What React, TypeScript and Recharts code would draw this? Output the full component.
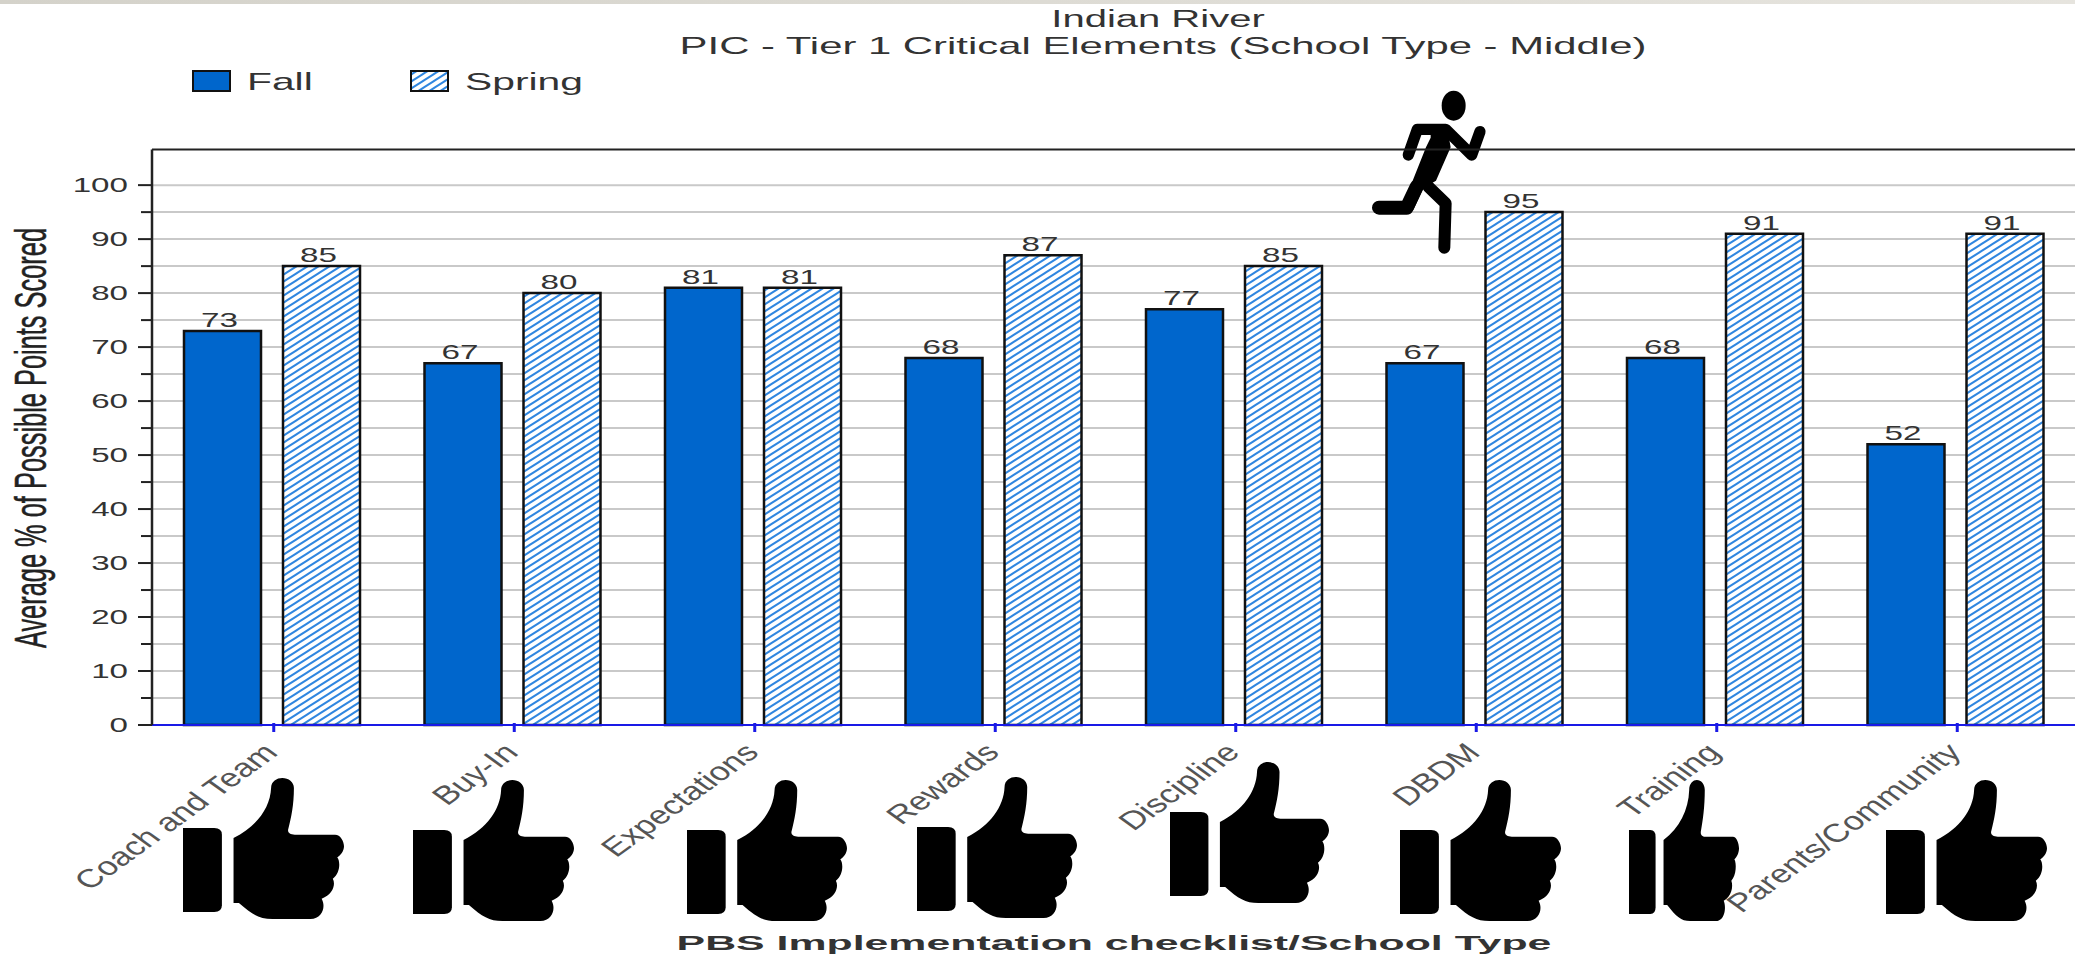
import React from "react";
import {
  BarChart,
  Bar,
  XAxis,
  YAxis,
  CartesianGrid,
  ReferenceLine,
  LabelList,
  Legend,
} from "recharts";

const categories = [
  "Coach and Team",
  "Buy-In",
  "Expectations",
  "Rewards",
  "Discipline",
  "DBDM",
  "Training",
  "Parents/Community",
];
const fallValues = [73, 67, 81, 68, 77, 67, 68, 52];
const springValues = [85, 80, 81, 87, 85, 95, 91, 91];
const yTicks = [0, 5, 10, 15, 20, 25, 30, 35, 40, 45, 50, 55, 60, 65, 70, 75, 80, 85, 90, 95, 100];
const Y_MAX = 106.6;

const data = categories.map((name, i) => ({
  name,
  Fall: fallValues[i],
  Spring: springValues[i],
}));

// thumbs under the axis: left, top, width, height in page pixels
const THUMBS = [
  [183, 778, 161, 141],
  [413, 780, 161, 141],
  [687, 780, 160, 141],
  [917, 777, 160, 141],
  [1170, 762, 159, 141],
  [1400, 780, 161, 141],
  [1629, 780, 110, 141],
  [1886, 780, 161, 141],
];

const TEXT = "#333333";
const FONT = "'Liberation Sans', Arial, sans-serif";

function StretchText({ x, y, sx = 1.7, sy = 1, size = 20, anchor = "middle", bold = false, fill = TEXT, children }: any) {
  return (
    <text
      transform={`translate(${x},${y}) scale(${sx},${sy})`}
      textAnchor={anchor}
      fontFamily={FONT}
      fontSize={size}
      fontWeight={bold ? 700 : 400}
      fill={fill}
    >
      {children}
    </text>
  );
}

// major ticks are a bit longer than the minor ones, so the tick draws its own line
function YTick({ x, y, payload }: any) {
  const major = payload.value % 10 === 0;
  return (
    <g>
      <line x1={x - (major ? 14 : 11)} x2={x} y1={y} y2={y} stroke="#222" strokeWidth={2} />
      {major && (
        <StretchText x={x - 24} y={y + 7} anchor="end" size={19.5}>
          {payload.value}
        </StretchText>
      )}
    </g>
  );
}

function XTick({ x, y, payload }: any) {
  return (
    <g>
      <line x1={x + 1.5} x2={x + 1.5} y1={y - 8} y2={y + 1} stroke="#1a1ae6" strokeWidth={3} />
      <text
        transform={`translate(${x + 7},${y + 23}) scale(1.62,1.17) rotate(-45)`}
        textAnchor="end"
        fontFamily={FONT}
        fontSize={22}
        fill="#555555"
      >
        {payload.value}
      </text>
    </g>
  );
}

function ValueLabel({ x, y, width, value }: any) {
  return (
    <StretchText x={x + width / 2 - 3} y={y - 4} size={20} sx={1.66}>
      {value}
    </StretchText>
  );
}

function ChartLegend() {
  return (
    <svg width={420} height={40} style={{ display: "block" }}>
      <rect x={1} y={11} width={37} height={20} fill="#0066cc" stroke="#111" strokeWidth={2} />
      <StretchText x={55} y={30} size={24} sx={1.7} anchor="start">Fall</StretchText>
      <rect x={219} y={11} width={37} height={20} fill="url(#springHatch)" stroke="#111" strokeWidth={2} />
      <StretchText x={273} y={30} size={24} sx={1.7} anchor="start">Spring</StretchText>
    </svg>
  );
}

function Thumb({ box }: { box: number[] }) {
  const [left, top, w, h] = box;
  return (
    <g transform={`translate(${left},${top}) scale(${w / 360},${h / 423})`}>
      <path d="M0 150H70Q87 150 87 170V382Q87 402 70 402H0Z" fill="#000" />
      <path
        d="M113 180C165 145 195 90 197 30C197 10 210 0 222 0C236 0 248 12 248 30C248 80 242 120 235 155C234 165 240 170 250 170H340C352 170 360 190 360 205C360 220 352 232 345 238C352 250 352 285 335 302C342 320 335 350 310 362C320 385 312 423 285 423H200C170 423 155 410 125 375L113 375Z"
        fill="#000"
      />
    </g>
  );
}

function Runner() {
  return (
    <g transform="translate(1300,60) scale(0.3333)" fill="none" stroke="#000" strokeLinecap="round" strokeLinejoin="round">
      <ellipse cx={461} cy={137} rx={36} ry={45} fill="#000" stroke="none" />
      <path d="M392 233L378 262L315 420L340 450L370 385L408 362L452 262L440 195L392 195Z" fill="#000" stroke="none" />
      <path d="M325 285L352 208H437L515 285L540 215" strokeWidth={34} />
      <path d="M350 380L320 443H237" strokeWidth={42} />
      <path d="M385 380L437 430L433 563" strokeWidth={36} />
    </g>
  );
}

export default function App() {
  return (
    <div style={{ position: "fixed", left: 0, top: 0, width: 2075, height: 959, overflow: "hidden", background: "#fff" }}>
      <div style={{ position: "absolute", left: 0, top: 0, width: 2075, height: 4, background: "linear-gradient(90deg,#d4d2ca,#e6e4de)" }} />
      <BarChart
        width={2075}
        height={959}
        data={data}
        barSize={77}
        barGap={22}
        margin={{ top: 109.5, right: -1, bottom: 0, left: 0 }}
      >
        <defs>
          <pattern id="springHatch" width={11} height={7} patternUnits="userSpaceOnUse">
            <rect width={11} height={7} fill="#ffffff" />
            <path d="M-2.75 1.75L2.75 -1.75M0 7L11 0M8.25 8.75L13.75 5.25" stroke="#2f86e0" strokeWidth={2} />
          </pattern>
        </defs>
        <CartesianGrid vertical={false} stroke="#c9c9c9" strokeWidth={2} horizontalValues={yTicks} />
        <XAxis
          dataKey="name"
          interval={0}
          height={234}
          axisLine={{ stroke: "#1a1ae6", strokeWidth: 2 }}
          tickLine={false}
          tick={<XTick />}
          tickMargin={0}
        />
        <YAxis
          width={152}
          domain={[0, Y_MAX]}
          ticks={yTicks}
          interval={0}
          axisLine={{ stroke: "#222", strokeWidth: 2.5 }}
          tickLine={false}
          tickSize={0}
          tickMargin={0}
          tick={<YTick />}
        />
        <ReferenceLine y={Y_MAX} stroke="#222" strokeWidth={2} />
        <Legend
          verticalAlign="top"
          align="left"
          wrapperStyle={{ left: 192, top: 60, width: 420 }}
          content={<ChartLegend />}
        />
        <Bar dataKey="Fall" fill="#0066cc" stroke="#111" strokeWidth={2.5} isAnimationActive={false}>
          <LabelList dataKey="Fall" content={<ValueLabel />} />
        </Bar>
        <Bar dataKey="Spring" fill="url(#springHatch)" stroke="#111" strokeWidth={2.5} isAnimationActive={false}>
          <LabelList dataKey="Spring" content={<ValueLabel />} />
        </Bar>
        <StretchText x={1158} y={27} size={23} sx={1.74}>Indian River</StretchText>
        <StretchText x={1163} y={54} size={23} sx={1.82}>PIC - Tier 1 Critical Elements (School Type - Middle)</StretchText>
        <StretchText x={1114} y={950} size={21} sx={2.04} bold>PBS Implementation checklist/School Type</StretchText>
        <text
          transform="translate(46,438) scale(1.72,1) rotate(-90)"
          textAnchor="middle"
          fontFamily={FONT}
          fontSize={25.4}
          fontWeight={500}
          stroke="#222"
          strokeWidth={0.3}
          fill="#222"
        >
          Average % of Possible Points Scored
        </text>
        {THUMBS.map((box, i) => (
          <Thumb key={i} box={box} />
        ))}
        <Runner />
      </BarChart>
    </div>
  );
}
